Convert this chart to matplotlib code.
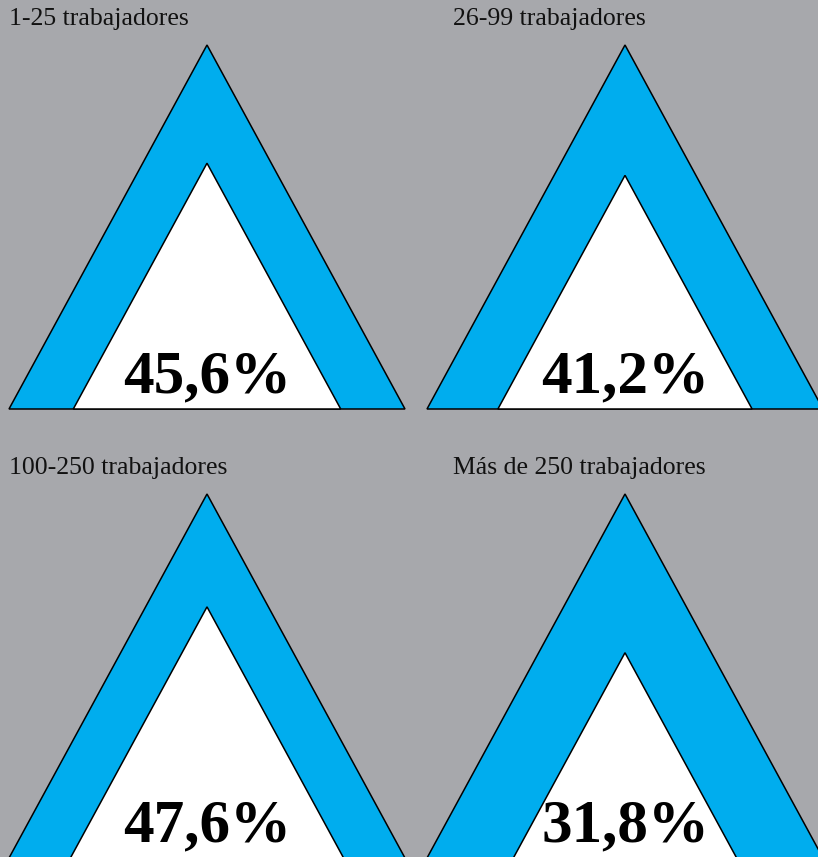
import numpy as np
import matplotlib.pyplot as plt
from matplotlib.patches import Polygon

# datos
grupos = ["1-25 trabajadores", "26-99 trabajadores",
          "100-250 trabajadores", "Más de 250 trabajadores"]
porcentajes = [45.6, 41.2, 47.6, 31.8]
etiquetas = ["45,6%", "41,2%", "47,6%", "31,8%"]

fondo = "#a7a8ac"
azul = "#00adee"

fig = plt.figure(figsize=(8.18, 8.57), dpi=100, facecolor=fondo)
ax = fig.add_axes([0, 0, 1, 1])
ax.set_facecolor(fondo)
ax.set_xlim(0, 818)
ax.set_ylim(857, 0)
ax.axis("off")

# posiciones de los paneles (centro x, vértice y)
centros_x = [207, 625, 207, 625]
vertices_y = [45, 45, 494, 494]
titulo_x = [9, 453, 9, 453]
alto = 364
medio_ancho = 198

for i in range(4):
    cx = centros_x[i]
    top = vertices_y[i]
    base = top + alto
    ext = Polygon([[cx - medio_ancho, base], [cx, top], [cx + medio_ancho, base]],
                  closed=True, facecolor=azul, edgecolor="black", lw=1.1,
                  joinstyle="miter", clip_on=False)
    ax.add_patch(ext)
    s = np.sqrt(porcentajes[i] / 100.0)
    h = alto * s
    w = medio_ancho * s
    inner = Polygon([[cx - w, base], [cx, base - h], [cx + w, base]],
                    closed=True, facecolor="white", edgecolor="black", lw=1.1,
                    joinstyle="miter", clip_on=False)
    ax.add_patch(inner)
    ax.text(titulo_x[i], top - 20, grupos[i], fontsize=18.5,
            family="Liberation Serif", color="#111111", ha="left", va="baseline")
    ax.text(cx, base - 17, etiquetas[i], fontsize=44, fontweight="bold",
            family="Liberation Serif", color="black", ha="center", va="baseline")

fig.savefig("out.png", dpi=100, facecolor=fondo)
